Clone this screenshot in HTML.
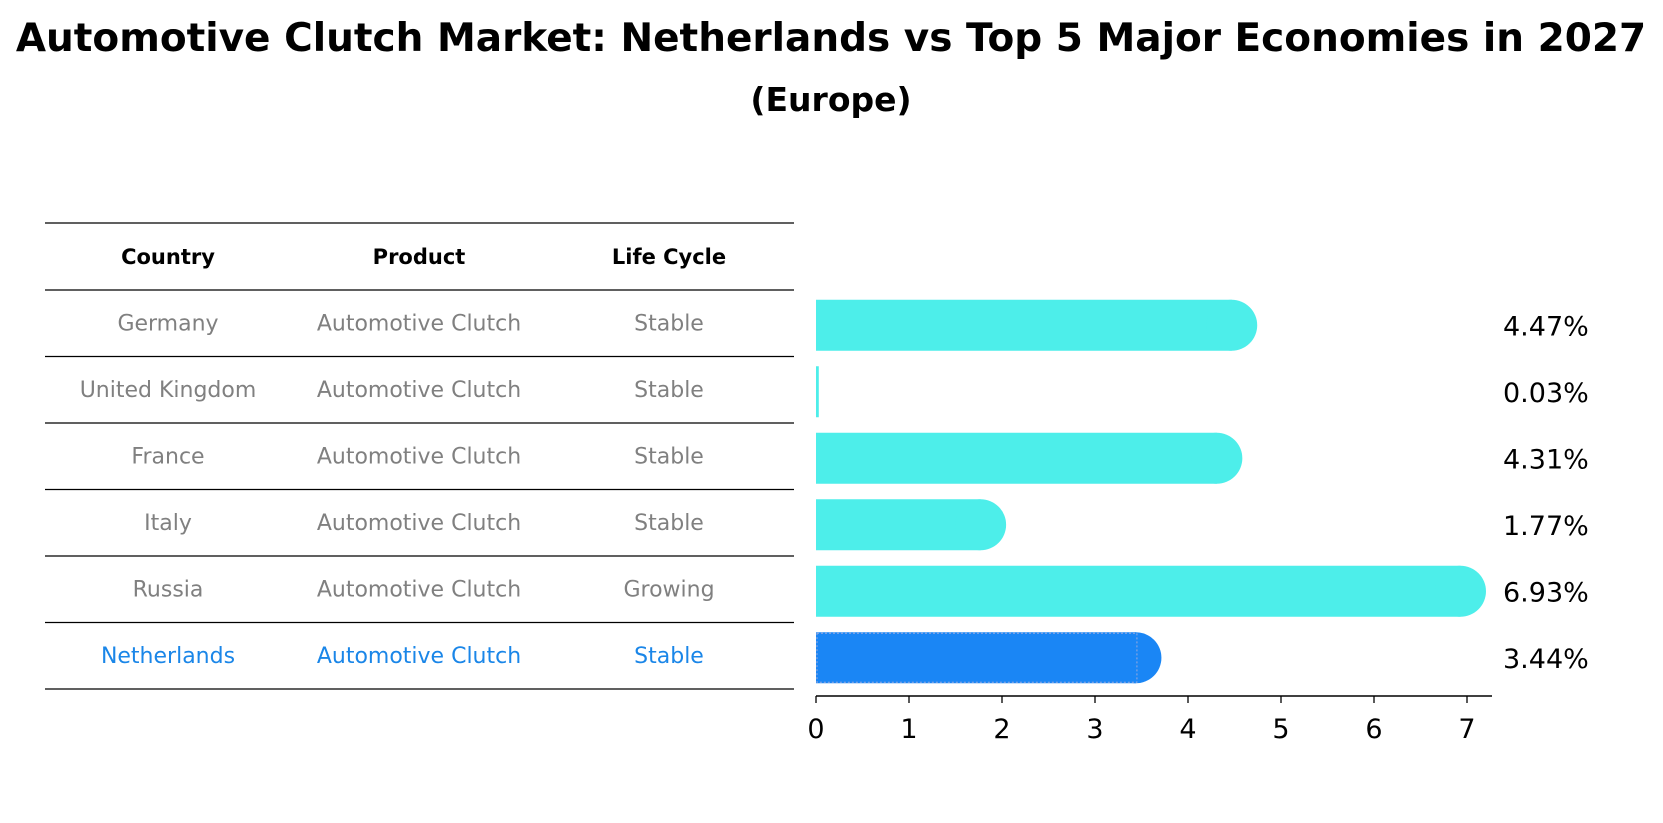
<!DOCTYPE html>
<html><head><meta charset="utf-8"><style>
body{margin:0;background:#fff;}
svg{display:block;font-family:"DejaVu Sans","Liberation Sans",sans-serif;}
</style></head><body>
<svg id="chart" width="1663" height="823" viewBox="0 0 1663 823">
<text x="831" y="51" text-anchor="middle" font-size="39" font-weight="bold">Automotive Clutch Market: Netherlands vs Top 5 Major Economies in 2027</text>
<text x="831" y="111" text-anchor="middle" font-size="33" font-weight="bold">(Europe)</text>
<g id="table"></g>
<g id="bars"></g>
<g id="axis"></g>
</svg>
<script>
const countries=["Germany","United Kingdom","France","Italy","Russia","Netherlands"];
const products=["Automotive Clutch","Automotive Clutch","Automotive Clutch","Automotive Clutch","Automotive Clutch","Automotive Clutch"];
const lifeCycles=["Stable","Stable","Stable","Stable","Growing","Stable"];
const values=[4.47,0.03,4.31,1.77,6.93,3.44];
const ticks=[0,1,2,3,4,5,6,7];
const NS="http://www.w3.org/2000/svg";
function mk(tag,attrs,parent){const e=document.createElementNS(NS,tag);for(const k in attrs)e.setAttribute(k,attrs[k]);parent.appendChild(e);return e;}
const x0=816,pxPer=(1467-816)/7;
const xs=v=>x0+v*pxPer;
const rowTop=290,rowH=66.5;
const yc=i=>rowTop+rowH*i+rowH/2;
const tbl=document.getElementById('table');
const colX=[168,419,669];
const headers=["Country","Product","Life Cycle"];
headers.forEach((h,j)=>{const t=mk('text',{x:colX[j],y:264,'text-anchor':'middle','font-size':21,'font-weight':'bold'},tbl);t.textContent=h;

});
[223,rowTop].concat(countries.map((c,i)=>rowTop+rowH*(i+1))).forEach(y=>{const l=mk('line',{x1:45,x2:794,y1:y,y2:y,stroke:'#000','stroke-width':1.2},tbl);

});
countries.forEach((c,i)=>{const hl=c==="Netherlands";const col=hl?'#1a86e8':'#808080';
[c,products[i],lifeCycles[i]].forEach((s,j)=>{const t=mk('text',{x:colX[j],y:yc(i)+7,'text-anchor':'middle','font-size':22,fill:col},tbl);t.textContent=s;

});});
const bars=document.getElementById('bars');
const bh=51;
values.forEach((v,i)=>{const hl=countries[i]==="Netherlands";const col=hl?'#1a86f5':'#4deeea';
const cy=yc(i)+2;const xe=xs(v);
const w=Math.max(xe-x0,2);
const r=mk('rect',{x:x0,y:cy-bh/2,width:w,height:bh,fill:col},bars);


if(v>0.5){const c=mk('circle',{cx:xe,cy:cy,r:bh/2,fill:col},bars);

}
if(hl){const o=mk('rect',{x:x0+1,y:cy-bh/2+1,width:w,height:bh-2,fill:'none',stroke:'#9ad',"stroke-dasharray":'2 2','stroke-width':1},bars);

}
const t=mk('text',{x:1503,y:cy+10,'font-size':27},bars);t.textContent=v.toFixed(2)+'%';

});
const ax=document.getElementById('axis');
const al=mk('line',{x1:x0,x2:1492,y1:696,y2:696,stroke:'#000','stroke-width':1.5},ax);


ticks.forEach(t=>{const l=mk('line',{x1:xs(t),x2:xs(t),y1:696,y2:703,stroke:'#000','stroke-width':1.3},ax);


const tx=mk('text',{x:xs(t),y:738,'text-anchor':'middle','font-size':27},ax);tx.textContent=t;

});
</script>
</body></html>
